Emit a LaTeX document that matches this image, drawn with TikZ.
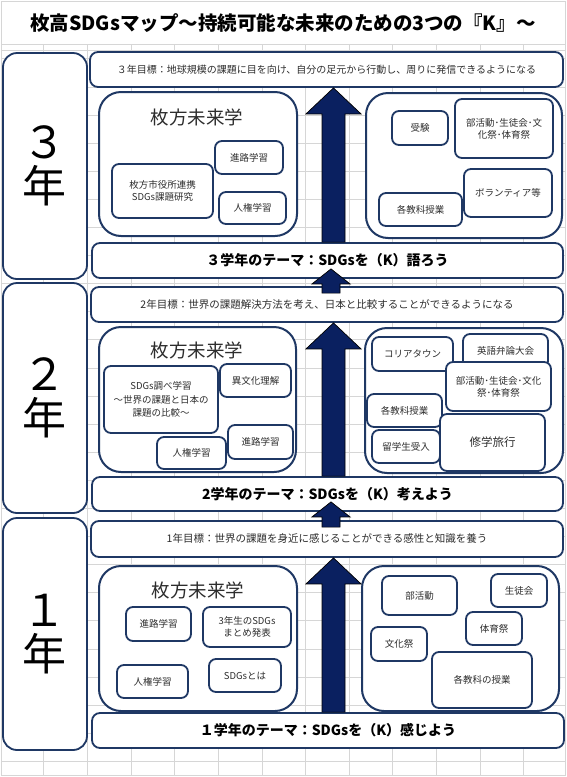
\documentclass[tikz,border=0pt]{standalone}
\usepackage{fontspec}
\setmainfont{Noto Sans CJK JP}
\usetikzlibrary{calc}
\definecolor{navy}{RGB}{31,56,100}
\definecolor{arrowfill}{RGB}{10,32,96}
\definecolor{gridgray}{RGB}{214,214,214}
\definecolor{txt}{RGB}{45,45,45}
\newcommand\bx[7]{\node[#1,minimum width={(#5)-(#3)},minimum height={(#6)-(#4)}] (#2) at ({((#3)+(#5))/2},{((#4)+(#6))/2}) {#7};}
\begin{document}
\begin{tikzpicture}[x=1pt,y=-1pt,
 panel/.style={draw=navy,line width=2pt,rounded corners=22pt,fill=white},
 sbox/.style={draw=navy,line width=1.8pt,rounded corners=7pt,fill=white,align=center,font=\fontsize{9.5}{12}\selectfont,text=txt,inner sep=1pt},
 yearbox/.style={draw=navy,line width=1.8pt,rounded corners=14pt,fill=white,align=center,font=\fontsize{44}{44}\selectfont},
 goalbox/.style={draw=navy,line width=1.8pt,rounded corners=8pt,fill=white,font=\fontsize{10.5}{12}\selectfont,text=txt},
 themebox/.style={draw=navy,line width=1.8pt,rounded corners=8pt,fill=white,font=\fontsize{14}{16}\selectfont\bfseries},
 paneltitle/.style={font=\fontsize{18.5}{20}\selectfont,text=txt,inner sep=0pt},
 blk/.style={fill=arrowfill,draw=black,line width=0.7pt,line join=miter},
 gridline/.style={draw=gridgray,line width=0.8pt}]
\useasboundingbox (0,0) rectangle (567,777);
% spreadsheet grid
\draw[gridline] (1,1) rectangle (565,775);
\foreach \y in {44,50,58.8,86.9,115,143.1,171.2,199.3,227.4,255.5,283.6,311.7,339.8,367.9,396,424.1,452.2,480.3,508.4,536.5,564.6,592.7,620.8,648.9,677,705.1,733.2,761.3}
  \draw[gridline] (1,\y) -- (565,\y);
\foreach \x in {43.5,87.5,131,174.5,218,262,305.5,349,392.5,436,480,523.5}
  \draw[gridline] (\x,44) -- (\x,775);
% title
\node[font=\fontsize{19.5}{22}\selectfont\bfseries] (title) at (283,23) {枚高SDGsマップ～持続可能な未来のための3つの『K』～};
% year boxes
\bx{yearbox}{y3}{3}{53}{87}{279}{３\\年}
\bx{yearbox}{y2}{3}{283}{87}{513}{２\\年}
\bx{yearbox}{y1}{3}{518}{87}{750}{１\\年}
% goals
\bx{goalbox,font=\fontsize{10}{12}\selectfont}{g3}{90}{52}{563}{87}{３年目標：地球規模の課題に目を向け、自分の足元から行動し、周りに発信できるようになる}
\bx{goalbox}{g2}{91}{287}{563}{322}{2年目標：世界の課題解決方法を考え、日本と比較することができるようになる}
\bx{goalbox}{g1}{91}{521}{563}{557}{1年目標：世界の課題を身近に感じることができる感性と知識を養う}
% themes
\bx{themebox}{t3}{92}{243}{563}{278}{３学年のテーマ：SDGsを（K）語ろう}
\bx{themebox}{t2}{92}{477}{563}{511}{2学年のテーマ：SDGsを（K）考えよう}
\bx{themebox}{t1}{92}{713}{564}{748}{１学年のテーマ：SDGsを（K）感じよう}
% section 3
\bx{panel}{L3}{99}{92}{297}{236}{}
\node[paneltitle] (L3t) at (197,117) {枚方未来学};
\bx{sbox}{L3a}{215}{141}{283}{174}{進路学習}
\bx{sbox}{L3b}{112}{164}{213}{218}{枚方市役所連携\\SDGs課題研究}
\bx{sbox}{L3c}{219}{192}{286}{224}{人権学習}
\bx{panel}{R3}{366}{93}{562}{238}{}
\bx{sbox}{R3a}{392}{111}{448}{145}{受験}
\bx{sbox}{R3b}{455}{99}{553}{158}{部活動･生徒会･文\\化祭･体育祭}
\bx{sbox}{R3c}{464}{169}{552}{217}{ボランティア等}
\bx{sbox}{R3d}{379}{193}{462}{226}{各教科授業}
% section 2
\bx{panel}{L2}{99}{327}{296}{472}{}
\node[paneltitle] (L2t) at (197,350) {枚方未来学};
\bx{sbox,font=\fontsize{9.5}{13.5}\selectfont}{L2a}{104}{366}{218}{433}{SDGs調べ学習\\～世界の課題と日本の\\課題の比較～}
\bx{sbox}{L2b}{220}{364}{291}{397}{異文化理解}
\bx{sbox}{L2c}{228}{425}{293}{459}{進路学習}
\bx{sbox}{L2d}{157}{437}{226}{469}{人権学習}
\bx{panel}{R2}{365}{328}{563}{473}{}
\bx{sbox}{R2a}{372}{337}{453}{371}{コリアタウン}
\bx{sbox}{R2b}{463}{334}{548}{368}{英語弁論大会}
\bx{sbox}{R2c}{446}{362}{551}{411}{部活動･生徒会･文化\\祭･体育祭}
\bx{sbox}{R2d}{367}{394}{442}{427}{各教科授業}
\bx{sbox}{R2e}{372}{430}{440}{463}{留学生受入}
\bx{sbox,font=\fontsize{11.5}{13}\selectfont}{R2f}{440}{414}{545}{471}{修学旅行}
% section 1
\bx{panel}{L1}{99}{566}{297}{711}{}
\node[paneltitle] (L1t) at (198,590) {枚方未来学};
\bx{sbox}{L1a}{126}{607}{191}{641}{進路学習}
\bx{sbox}{L1b}{203}{607}{291}{647}{3年生のSDGs\\まとめ発表}
\bx{sbox}{L1c}{117}{665}{188}{698}{人権学習}
\bx{sbox}{L1d}{209}{659}{281}{692}{SDGsとは}
\bx{panel}{R1}{362}{566}{559}{711}{}
\bx{sbox}{R1a}{382}{576}{457}{615}{部活動}
\bx{sbox}{R1b}{491}{574}{547}{607}{生徒会}
\bx{sbox}{R1c}{466}{612}{522}{645}{体育祭}
\bx{sbox}{R1d}{371}{627}{427}{661}{文化祭}
\bx{sbox}{R1e}{432}{652}{532}{708}{各教科の授業}
% arrows
\coordinate (ax) at (333.5,0);
\coordinate (bx) at (331,0);
\foreach \g/\t in {g3/t3,g2/t2,g1/t1}{
\draw[blk] let \p1=(\g.south -| ax), \p2=(\t.north -| ax) in
  (\x1-11.5pt,\y2) -- (\x1-11.5pt,\y1-26pt) -- (\x1-27.5pt,\y1-26pt) -- (\x1,\y1) --
  (\x1+27.5pt,\y1-26pt) -- (\x1+11.5pt,\y1-26pt) -- (\x1+11.5pt,\y2) -- cycle;
}
\foreach \t/\g in {t3/g2,t2/g1}{
\draw[blk] let \p1=(\t.south -| bx), \p2=(\g.north -| bx) in
  (\x1-9pt,\y2-7pt) -- (\x1-9pt,\y1-5pt) -- (\x1-19pt,\y1-5pt) -- (\x1,\y1+10pt) --
  (\x1+19pt,\y1-5pt) -- (\x1+9pt,\y1-5pt) -- (\x1+9pt,\y2-7pt) -- cycle;
}
\end{tikzpicture}
\end{document}
